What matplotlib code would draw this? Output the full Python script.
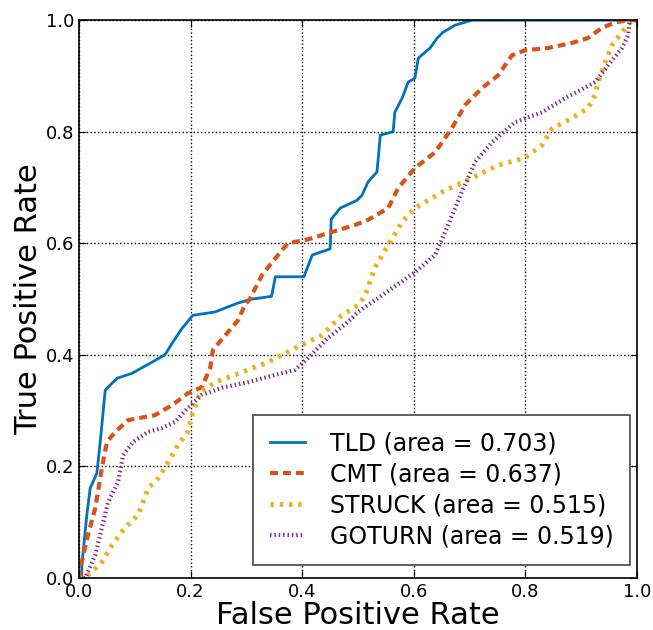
import numpy as np
import matplotlib
matplotlib.use("Agg")
import matplotlib.pyplot as plt

# ROC curves
tld_fpr = [0.0, 0.005, 0.005, 0.014, 0.02, 0.032, 0.038, 0.047, 0.068, 0.095, 0.131, 0.154,
           0.167, 0.185, 0.204, 0.244, 0.285, 0.31, 0.345, 0.352, 0.403, 0.418, 0.45, 0.452,
           0.468, 0.498, 0.507, 0.518, 0.534, 0.54, 0.563, 0.566, 0.579, 0.59, 0.602, 0.608,
           0.629, 0.642, 0.652, 0.674, 0.704, 1.0]
tld_tpr = [0.0, 0.0, 0.023, 0.113, 0.161, 0.188, 0.244, 0.337, 0.358, 0.367, 0.387, 0.40,
           0.421, 0.448, 0.471, 0.477, 0.493, 0.50, 0.505, 0.54, 0.54, 0.579, 0.59, 0.643,
           0.663, 0.677, 0.686, 0.71, 0.728, 0.794, 0.80, 0.835, 0.86, 0.889, 0.896, 0.932,
           0.95, 0.968, 0.978, 0.991, 1.0, 1.0]

cmt_fpr = [0.0, 0.005, 0.016, 0.029, 0.041, 0.05, 0.065, 0.088, 0.136, 0.167, 0.195, 0.22,
           0.235, 0.24, 0.262, 0.285, 0.297, 0.306, 0.328, 0.346, 0.374, 0.41, 0.446, 0.495,
           0.518, 0.554, 0.572, 0.602, 0.638, 0.668, 0.692, 0.722, 0.751, 0.776, 0.799, 0.84,
           0.883, 0.912, 0.937, 0.961, 0.984, 1.0]
cmt_tpr = [0.0, 0.029, 0.077, 0.125, 0.197, 0.244, 0.262, 0.283, 0.292, 0.31, 0.331, 0.342,
           0.376, 0.409, 0.435, 0.462, 0.489, 0.50, 0.543, 0.566, 0.60, 0.607, 0.618, 0.633,
           0.642, 0.663, 0.699, 0.735, 0.763, 0.806, 0.848, 0.878, 0.901, 0.937, 0.946, 0.95,
           0.959, 0.968, 0.986, 0.996, 1.0, 1.0]

struck_fpr = [0.0, 0.01, 0.023, 0.041, 0.059, 0.082, 0.106, 0.124, 0.142, 0.16, 0.177, 0.195,
              0.204, 0.217, 0.244, 0.292, 0.339, 0.387, 0.435, 0.471, 0.5, 0.513, 0.53, 0.554,
              0.579, 0.602, 0.651, 0.704, 0.751, 0.799, 0.83, 0.848, 0.883, 0.912, 0.925, 0.93,
              0.943, 0.955, 0.973, 0.991, 1.0]
struck_tpr = [0.0, 0.0, 0.011, 0.029, 0.059, 0.09, 0.113, 0.161, 0.179, 0.208, 0.238, 0.262,
              0.297, 0.333, 0.351, 0.369, 0.387, 0.412, 0.435, 0.471, 0.489, 0.507, 0.556, 0.597,
              0.638, 0.663, 0.692, 0.717, 0.74, 0.753, 0.776, 0.806, 0.824, 0.842, 0.866, 0.889,
              0.925, 0.955, 0.978, 1.0, 1.0]

goturn_fpr = [0.0, 0.011, 0.029, 0.041, 0.052, 0.07, 0.079, 0.097, 0.124, 0.149, 0.172, 0.195,
              0.22, 0.256, 0.303, 0.351, 0.387, 0.41, 0.446, 0.482, 0.5, 0.536, 0.602, 0.638,
              0.656, 0.686, 0.71, 0.74, 0.781, 0.83, 0.871, 0.925, 0.948, 0.973, 0.984, 0.987, 1.0]
goturn_tpr = [0.0, 0.0, 0.041, 0.09, 0.136, 0.172, 0.22, 0.244, 0.262, 0.269, 0.28, 0.305,
              0.328, 0.341, 0.351, 0.364, 0.373, 0.394, 0.43, 0.459, 0.477, 0.502, 0.548, 0.579,
              0.62, 0.692, 0.746, 0.781, 0.817, 0.835, 0.86, 0.889, 0.919, 0.95, 0.973, 1.0, 1.0]

labels = ["TLD (area = 0.703)", "CMT (area = 0.637)",
          "STRUCK (area = 0.515)", "GOTURN (area = 0.519)"]
ticks = [0.0, 0.2, 0.4, 0.6, 0.8, 1.0]

fig = plt.figure(figsize=(6.53, 6.30), dpi=100)
ax = fig.add_axes([0.121, 0.0825, 0.8545, 0.8855])

ax.plot(tld_fpr, tld_tpr, color="#0072BD", lw=2, label=labels[0])
ax.plot(cmt_fpr, cmt_tpr, color="#D95319", lw=3, dashes=(1.9, 1.2), label=labels[1])
ax.plot(struck_fpr, struck_tpr, color="#EDB120", lw=3.5, dashes=(0.7, 1.2), label=labels[2])
ax.plot(goturn_fpr, goturn_tpr, color="#7E2F8E", lw=3, dashes=(0.35, 0.7), label=labels[3])

ax.set_xlim(0, 1)
ax.set_ylim(0, 1)
ax.set_xticks(ticks)
ax.set_yticks(ticks)
ax.grid(True, color="black", linestyle=":", linewidth=1)
ax.tick_params(direction="in", top=True, right=True, length=5, labelsize=13)
for s in ax.spines.values():
    s.set_linewidth(1.2)
ax.set_xlabel("False Positive Rate", fontsize=22, labelpad=0)
ax.set_ylabel("True Positive Rate", fontsize=22, labelpad=2)

leg = ax.legend(loc="lower right", bbox_to_anchor=(0.9875, 0.0233), fontsize=17,
                fancybox=False, framealpha=1, handlelength=1.5, handletextpad=1.05,
                borderaxespad=0, borderpad=0.7, labelspacing=0.3)
leg.get_frame().set_edgecolor("#444444")
leg.get_frame().set_linewidth(1.2)

fig.savefig("out.png", dpi=100)
